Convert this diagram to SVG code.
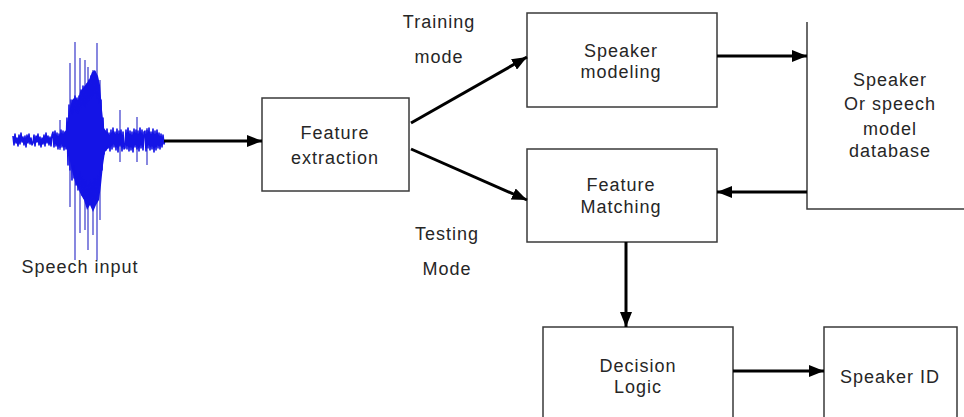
<svg xmlns="http://www.w3.org/2000/svg" width="964" height="417" viewBox="0 0 964 417">
  <style>
    .box { fill: #fff; stroke: #3a3a3a; stroke-width: 1.5; }
    .edge { fill: none; stroke: #3a3a3a; stroke-width: 1.5; }
    .lbl { font-family: "Liberation Sans", Arial, sans-serif; font-size: 18px; letter-spacing: 1px; fill: #262626; text-anchor: middle; }
    .conn { stroke: #000; stroke-width: 3; fill: none; marker-end: url(#ah); }
    .wave { fill: none; stroke: #1414e6; stroke-width: 1.6; stroke-linejoin: round; }
    .spike { stroke: #6a6ad8; stroke-width: 1.6; }
  </style>
  <defs>
    <marker id="ah" viewBox="0 0 15 12" refX="15" refY="6" markerWidth="15" markerHeight="12" markerUnits="userSpaceOnUse" orient="auto">
      <path d="M0,0 L15,6 L0,12 z" fill="#000"/>
    </marker>
  </defs>
  <rect width="964" height="417" fill="#fff"/>

  <!-- speech waveform: light spikes, dense burst, noise trace -->
  <g id="speech-input">
    <g class="spike">
      <line x1="75" y1="42" x2="75" y2="260"/>
      <line x1="97" y1="43" x2="97" y2="260"/>
      <line x1="80" y1="58" x2="80" y2="233"/>
      <line x1="85" y1="60" x2="85" y2="230"/>
      <line x1="88" y1="67" x2="88" y2="250"/>
      <line x1="70" y1="63" x2="70" y2="207"/>
      <line x1="93" y1="70" x2="93" y2="235"/>
      <line x1="100" y1="80" x2="100" y2="220"/>
      <line x1="120" y1="110" x2="120" y2="162"/>
      <line x1="137" y1="117" x2="137" y2="162"/>
      <line x1="147" y1="128" x2="147" y2="165"/>
      <line x1="60" y1="120" x2="60" y2="150"/>
    </g>
    <path fill="#1414e6" d="M62,136 L66,130 L68,120 L70,108 L72,100 L75,97 L78,100 L80,92 L83,88 L86,84 L89,80 L92,72 L95,70 L98,76 L100,85 L102,110 L104,128 L108,134 L110,136 L110,146 L105,152 L103,165 L101,185 L99,200 L96,205 L93,212 L90,205 L87,210 L84,200 L81,195 L78,188 L75,182 L72,170 L70,160 L68,150 L65,146 L62,146 z"/>
    <polyline class="wave" points="13,136 14,145 15,134 16,143 17,138 18,146 19,135 20,144 21,133 22,142 23,137 24,145 25,136 26,147 27,135 28,143 29,134 30,144 31,138 32,145 33,143 34,135 35,146 36,136 37,142 38,134 39,145 40,137 41,147 42,138 43,144 44,135 45,146 46,133 47,143 48,136 49,145 50,137 51,146 52,135 53,132 54,147 55,131 56,146 57,133 58,149 59,134 60,148 61,130 62,147 63,131 64,150 65,132 66,149 67,118 68,165 69,105 70,170 71,100 72,180 73,102 74,178 75,96 76,185 77,98 78,190 79,96 80,186 81,90 82,195 83,86 84,198 85,88 86,200 87,84 88,206 89,80 90,200 91,76 92,205 93,74 94,200 95,72 96,200 97,78 98,195 99,86 100,185 101,100 102,170 103,118 104,154 105,131 106,150 107,129 108,148 109,133 110,151 111,130 112,149 113,128 114,147 115,132 116,150 117,129 118,152 119,131 120,146 121,130 122,151 123,132 124,149 125,148 126,130 127,149 128,128 129,151 130,131 131,150 132,132 133,152 134,129 135,147 136,130 137,149 138,131 139,151 140,128 141,148 142,130 143,150 144,132 145,131 146,151 147,130 148,148 149,128 150,150 151,132 152,149 153,129 154,152 155,131 156,150 157,130 158,148 159,133 160,149 161,134 162,147 163,135 164,144 165,140"/>
    <text class="lbl" x="80" y="273">Speech input</text>
  </g>

  <g id="feature-extraction">
    <rect class="box" x="262" y="98" width="147" height="93"/>
    <text class="lbl" x="335" y="139">Feature</text>
    <text class="lbl" x="335" y="164">extraction</text>
  </g>

  <g id="speaker-modeling">
    <rect class="box" x="527" y="13" width="190" height="94"/>
    <text class="lbl" x="621" y="57">Speaker</text>
    <text class="lbl" x="621" y="78">modeling</text>
  </g>

  <g id="feature-matching">
    <rect class="box" x="527" y="149" width="190" height="93"/>
    <text class="lbl" x="621" y="191">Feature</text>
    <text class="lbl" x="621" y="213">Matching</text>
  </g>

  <g id="model-database">
    <path class="edge" d="M807,22 V209 H964"/>
    <text class="lbl" x="890" y="86">Speaker</text>
    <text class="lbl" x="890" y="110">Or speech</text>
    <text class="lbl" x="890" y="135">model</text>
    <text class="lbl" x="890" y="157">database</text>
  </g>

  <g id="decision-logic">
    <path class="edge" d="M543,417 V327 H733 V417"/>
    <text class="lbl" x="638" y="372">Decision</text>
    <text class="lbl" x="638" y="393">Logic</text>
  </g>

  <g id="speaker-id">
    <path class="edge" d="M824,417 V327 H957 V417"/>
    <text class="lbl" x="890" y="383">Speaker ID</text>
  </g>

  <g id="mode-labels">
    <text class="lbl" x="439" y="28">Training</text>
    <text class="lbl" x="439" y="63">mode</text>
    <text class="lbl" x="447" y="240">Testing</text>
    <text class="lbl" x="447" y="275">Mode</text>
  </g>

  <g id="connectors">
    <line class="conn" x1="164" y1="141" x2="262" y2="141"/>
    <line class="conn" x1="411" y1="123" x2="527" y2="57"/>
    <line class="conn" x1="411" y1="149" x2="527" y2="200"/>
    <line class="conn" x1="717" y1="56" x2="807" y2="56"/>
    <line class="conn" x1="807" y1="192" x2="717" y2="192"/>
    <line class="conn" x1="626" y1="242" x2="626" y2="327"/>
    <line class="conn" x1="733" y1="371" x2="824" y2="371"/>
  </g>
</svg>
